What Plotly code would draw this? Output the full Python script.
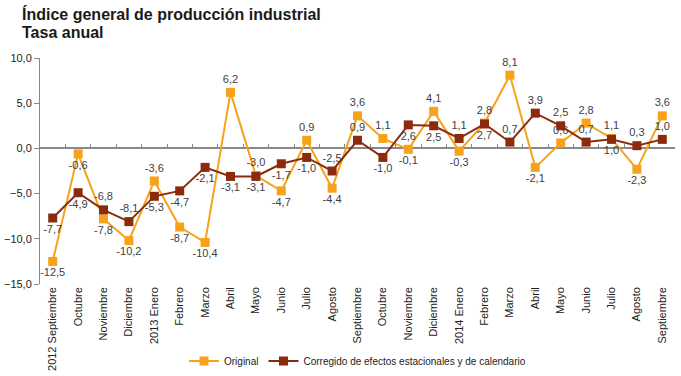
import plotly.graph_objects as go

categories = ["2012 Septiembre", "Octubre", "Noviembre", "Diciembre", "2013 Enero", "Febrero",
              "Marzo", "Abril", "Mayo", "Junio", "Julio", "Agosto", "Septiembre ", "Octubre ",
              "Noviembre ", "Diciembre ", "2014 Enero", "Febrero ", "Marzo ", "Abril ", "Mayo ",
              "Junio ", "Julio ", "Agosto ", "Septiembre  "]
tick_labels = ["2012 Septiembre", "Octubre", "Noviembre", "Diciembre", "2013 Enero", "Febrero",
               "Marzo", "Abril", "Mayo", "Junio", "Julio", "Agosto", "Septiembre", "Octubre",
               "Noviembre", "Diciembre", "2014 Enero", "Febrero", "Marzo", "Abril", "Mayo",
               "Junio", "Julio", "Agosto", "Septiembre"]

original = [-12.5, -0.6, -7.8, -10.2, -3.6, -8.7, -10.4, 6.2, -3.0, -4.7, 0.9, -4.4, 3.6,
            1.1, -0.1, 4.1, -0.3, 2.8, 8.1, -2.1, 0.6, 2.8, 1.1, -2.3, 3.6]
corregido = [-7.7, -4.9, -6.8, -8.1, -5.3, -4.7, -2.1, -3.1, -3.1, -1.7, -1.0, -2.5, 0.9,
             -1.0, 2.6, 2.5, 1.1, 2.7, 0.7, 3.9, 2.5, 0.7, 1.0, 0.3, 1.0]

orig_pos = ["b", "b", "b", "b", "t", "b", "b", "t", "t", "b", "t", "b", "t",
            "t", "b", "t", "b", "t", "t", "b", "t", "t", "t", "b", "t"]
corr_pos = ["b", "b", "t", "t", "b", "b", "b", "b", "b", "b", "b", "t", "t",
            "b", "b", "b", "t", "b", "t", "t", "t", "t", "b", "t", "t"]

title_lines = ["Índice general de producción industrial", "Tasa anual"]

ORANGE = "#F7A21B"
DARK = "#8B2B0B"
FONT = "Liberation Sans, Arial"

def fmt(v):
    return f"{v:.1f}".replace(".", ",")

def pos(p):
    return "top center" if p == "t" else "bottom center"

n = len(categories)
xrange_ = [-0.5, n - 0.5]

fig = go.Figure()
fig.add_trace(go.Scatter(
    x=categories, y=original, name="Original", mode="lines+markers+text",
    line=dict(color=ORANGE, width=2), marker=dict(symbol="square", size=9, color=ORANGE),
    text=[fmt(v) for v in original], textposition=[pos(p) for p in orig_pos],
    textfont=dict(family=FONT, size=11, color="#404040"),
    cliponaxis=False,
))
fig.add_trace(go.Scatter(
    x=categories, y=corregido, name="Corregido de efectos estacionales y de calendario",
    mode="lines+markers+text",
    line=dict(color=DARK, width=2), marker=dict(symbol="square", size=9, color=DARK),
    text=[fmt(v) for v in corregido], textposition=[pos(p) for p in corr_pos],
    textfont=dict(family=FONT, size=11, color="#404040"),
    cliponaxis=False,
))
# invisible helper trace for the zero-line tick axis
fig.add_trace(go.Scatter(x=categories, y=corregido, xaxis="x2", mode="markers",
                         marker=dict(opacity=0), showlegend=False, hoverinfo="skip"))

title_y = [14.5, 32.5]
annotations = [dict(
    text=f"<b>{t}</b>", xref="paper", yref="paper", x=-20 / 635, y=1 + (58 - yy) / 226,
    xanchor="left", yanchor="middle", align="left", showarrow=False,
    font=dict(family=FONT, size=16, color="#1a1a1a"),
) for t, yy in zip(title_lines, title_y)]

fig.update_layout(
    width=681, height=376,
    margin=dict(l=40, r=6, t=58, b=92, autoexpand=False),
    paper_bgcolor="white", plot_bgcolor="white",
    separators=",.",
    font=dict(family=FONT, size=11, color="#333333"),
    annotations=annotations,
    xaxis=dict(
        type="category", tickmode="array", tickvals=categories, ticktext=tick_labels,
        range=xrange_, autorange=False,
        tickangle=-90, showgrid=False, showline=False, ticks="", zeroline=False,
        tickfont=dict(size=11, color="#222222"), automargin=False,
    ),
    xaxis2=dict(
        type="category", overlaying="x", anchor="free", position=0.6, side="bottom",
        range=xrange_, autorange=False,
        showticklabels=False, ticks="inside", tickson="boundaries", ticklen=4,
        tickcolor="#888888", showgrid=False, showline=False, zeroline=False,
        automargin=False,
    ),
    yaxis=dict(
        range=[-15, 10], dtick=5, tickformat=".1f", showgrid=False,
        showline=True, linecolor="#888888", linewidth=1, ticks="outside", ticklen=5,
        tickcolor="#888888", zeroline=True, zerolinecolor="#888888", zerolinewidth=1.5,
        tickfont=dict(size=11, color="#222222"), automargin=False,
    ),
    legend=dict(orientation="h", x=0.5, xanchor="center", y=-77 / 226, yanchor="middle",
                font=dict(size=10, color="#222222")),
)

fig.write_html("out.html", post_script="document.body.style.margin='0';",
               config={"displayModeBar": False})
